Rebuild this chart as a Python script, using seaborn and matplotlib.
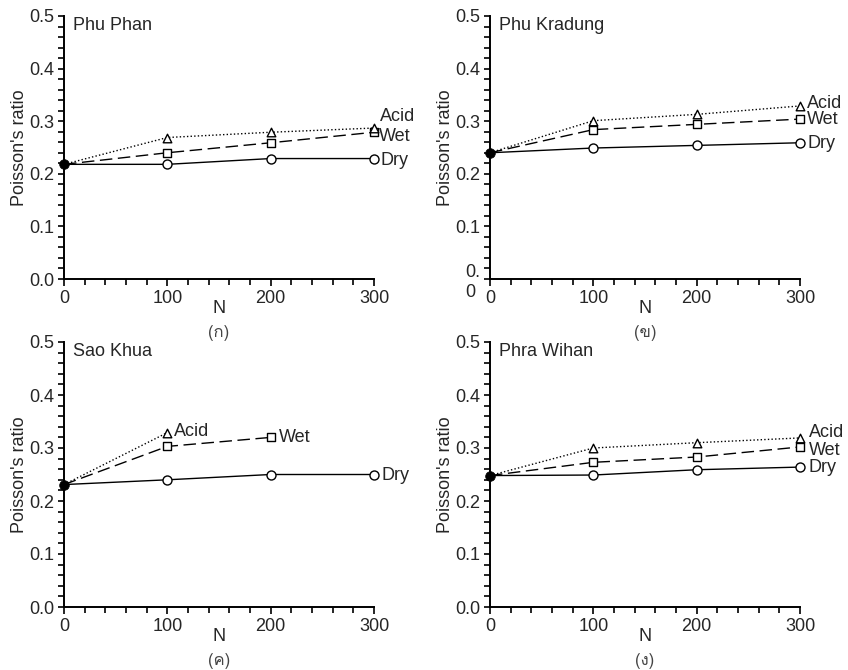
import pandas as pd
import seaborn as sns
import matplotlib
matplotlib.use("Agg")
import matplotlib.pyplot as plt
from matplotlib import font_manager, ft2font
from matplotlib.ticker import MultipleLocator

# cycles N and Poisson's ratio
cycles = [0, 100, 200, 300]
sites = ["Phu Phan", "Phu Kradung", "Sao Khua", "Phra Wihan"]
panel_tags = ["(ก)", "(ข)", "(ค)", "(ง)"]

phu_phan_dry = [0.218, 0.218, 0.229, 0.229]
phu_phan_wet = [0.218, 0.240, 0.259, 0.279]
phu_phan_acid = [0.218, 0.269, 0.279, 0.287]

phu_kradung_dry = [0.240, 0.249, 0.254, 0.259]
phu_kradung_wet = [0.240, 0.284, 0.294, 0.304]
phu_kradung_acid = [0.240, 0.301, 0.313, 0.329]

sao_khua_dry = [0.231, 0.240, 0.250, 0.250]
sao_khua_wet = [0.231, 0.303, 0.320]
sao_khua_acid = [0.231, 0.329]

phra_wihan_dry = [0.248, 0.249, 0.259, 0.264]
phra_wihan_wet = [0.248, 0.273, 0.283, 0.302]
phra_wihan_acid = [0.248, 0.300, 0.310, 0.319]

series = {
    "Phu Phan": {"Dry": phu_phan_dry, "Wet": phu_phan_wet, "Acid": phu_phan_acid},
    "Phu Kradung": {"Dry": phu_kradung_dry, "Wet": phu_kradung_wet, "Acid": phu_kradung_acid},
    "Sao Khua": {"Dry": sao_khua_dry, "Wet": sao_khua_wet, "Acid": sao_khua_acid},
    "Phra Wihan": {"Dry": phra_wihan_dry, "Wet": phra_wihan_wet, "Acid": phra_wihan_acid},
}

# where the curve names sit (data coords)
name_pos = {
    "Phu Phan": {"Acid": (306, 0.308), "Wet": (305, 0.271), "Dry": (306, 0.226)},
    "Phu Kradung": {"Acid": (307, 0.334), "Wet": (307, 0.303), "Dry": (307, 0.257)},
    "Sao Khua": {"Acid": (106, 0.331), "Wet": (208, 0.320), "Dry": (307, 0.248)},
    "Phra Wihan": {"Acid": (309, 0.330), "Wet": (309, 0.296), "Dry": (308, 0.264)},
}

styles = {
    "Dry": dict(linestyle="-", marker="o", size=42),
    "Wet": dict(linestyle=(0, (9, 4)), marker="s", size=34),
    "Acid": dict(linestyle=(0, (1, 1.6)), marker="^", size=38),
}


def thai_family():
    for f in font_manager.fontManager.ttflist:
        try:
            if ft2font.FT2Font(f.fname).get_char_index(0x0E01):
                return f.name
        except Exception:
            pass
    return "DejaVu Sans"


sns.set_theme(style="ticks")
plt.rcParams["font.family"] = ["Liberation Sans", "DejaVu Sans"]
plt.rcParams["font.size"] = 13
thai = thai_family()

fig = plt.figure(figsize=(8.48, 6.70), dpi=100)
W, H = 848, 670
# axes boxes in pixels: left, top, right, bottom
boxes = [(64, 16, 374, 279), (490, 16, 800, 279),
         (64, 342, 374, 607), (490, 342, 800, 607)]

for i, site in enumerate(sites):
    l, t, r, b = boxes[i]
    ax = fig.add_axes([l / W, 1 - b / H, (r - l) / W, (b - t) / H])
    h = b - t

    for name in ["Dry", "Wet", "Acid"]:
        vals = series[site][name]
        df = pd.DataFrame({"N": cycles[:len(vals)], "v": vals})
        st = styles[name]
        sns.lineplot(data=df, x="N", y="v", ax=ax, color="black", lw=1.0,
                     linestyle=st["linestyle"], clip_on=False, zorder=2)
        sns.scatterplot(data=df.iloc[1:], x="N", y="v", ax=ax, marker=st["marker"],
                        s=st["size"], facecolor="white", edgecolor="black",
                        linewidth=1.0, clip_on=False, zorder=3)
        px, py = name_pos[site][name]
        ax.text(px, py, name, ha="left", va="center", fontsize=13)

    start = pd.DataFrame({"N": [cycles[0]], "v": [series[site]["Dry"][0]]})
    sns.scatterplot(data=start, x="N", y="v", ax=ax, marker="o", s=48,
                    color="black", edgecolor="black", clip_on=False, zorder=4)

    ax.set_xlim(0, 300)
    ax.set_ylim(0, 0.5)
    ax.set_xticks(cycles)
    ax.xaxis.set_minor_locator(MultipleLocator(20))
    ax.yaxis.set_minor_locator(MultipleLocator(0.02))
    ylabels = ["0.0", "0.1", "0.2", "0.3", "0.4", "0.5"]
    if i == 1:
        ylabels[0] = "0.\n0"
    ax.set_yticks([0, 0.1, 0.2, 0.3, 0.4, 0.5], ylabels)
    for lab in ax.get_yticklabels():
        lab.set_multialignment("left")
    ax.tick_params(axis="both", which="both", direction="out", width=1.2,
                   labelsize=13, color="black")
    ax.tick_params(axis="x", which="major", length=5, pad=3)
    ax.tick_params(axis="x", which="minor", length=4)
    ax.tick_params(axis="y", which="both", length=4, pad=3)
    sns.despine(ax=ax)
    for sp in ["left", "bottom"]:
        ax.spines[sp].set_linewidth(1.4)
        ax.spines[sp].set_color("black")

    ax.set_xlabel("N", fontsize=13)
    ax.xaxis.set_label_coords(0.5, -21 / h)
    ax.set_ylabel("Poisson's ratio", fontsize=13)
    ax.yaxis.set_label_coords(-36 / (r - l), 0.5)

    ax.text(9 / (r - l), 1 - 9 / h, site, transform=ax.transAxes,
            ha="left", va="center", fontsize=13)
    ax.text(0.5, -54 / h, panel_tags[i], transform=ax.transAxes,
            ha="center", va="center", fontsize=12, color="#444444",
            family=[thai, "DejaVu Sans"])

fig.savefig("out.png", dpi=100)
